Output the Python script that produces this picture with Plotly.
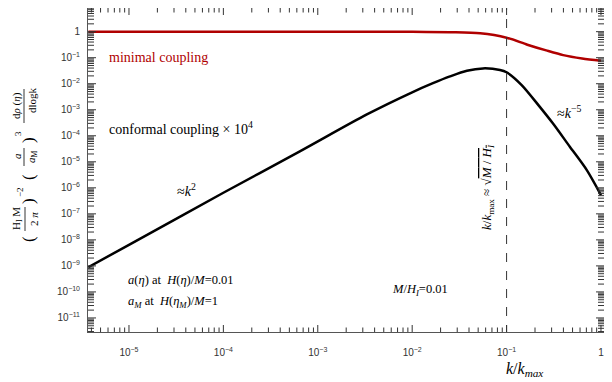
import math
import plotly.graph_objects as go

# ---- data (k/k_max, spectrum) ----
k_minimal = [10**-5.43, 1e-3, 1e-2, 10**-1.6, 10**-1.28, 1e-1, 10**-0.78, 10**-0.58, 10**-0.4, 10**-0.2, 1.0]
p_minimal = [1.0, 1.0, 10**-0.005, 10**-0.02, 10**-0.06, 10**-0.23, 10**-0.5, 10**-0.72, 10**-0.9, 10**-1.03, 10**-1.12]

k_conformal = [10**-5.43, 1e-5, 1e-4, 10**-3.19, 10**-2.48, 1e-2, 10**-1.78, 10**-1.6, 10**-1.42,
               10**-1.25, 10**-1.07, 1e-1, 10**-0.84, 10**-0.65, 10**-0.51, 10**-0.33, 10**-0.15, 1.0]
p_conformal = [10**-9.05, 10**-8.19, 10**-6.19, 10**-4.60, 10**-3.18, 10**-2.33, 10**-1.98, 10**-1.72, 10**-1.50,
               10**-1.41, 10**-1.47, 10**-1.56, 10**-2.05, 10**-2.88, 10**-3.52, 10**-4.42, 10**-5.32, 10**-6.28]

k_peak_marker = 0.1

x_tickvals = [1e-5, 1e-4, 1e-3, 1e-2, 1e-1, 1]
x_ticktext = ["10<sup>−5</sup>", "10<sup>−4</sup>", "10<sup>−3</sup>", "10<sup>−2</sup>", "10<sup>−1</sup>", "1"]
y_tickvals = [1, 1e-1, 1e-2, 1e-3, 1e-4, 1e-5, 1e-6, 1e-7, 1e-8, 1e-9, 1e-10, 1e-11]
y_ticktext = ["1"] + ["10<sup>−%d</sup>" % i for i in range(1, 12)]

X_RANGE = [-5.434, 0.032]
Y_RANGE = [-11.54, 0.91]

x_minor = [m * 10**e for e in range(-6, 1) for m in range(2, 10) if X_RANGE[0] < e + math.log10(m) < X_RANGE[1]]
y_minor = [m * 10**e for e in range(-12, 1) for m in range(2, 10) if Y_RANGE[0] < e + math.log10(m) < Y_RANGE[1]]

# ---- layout geometry (pixels of the 612x382 page; the page body adds an 8px offset) ----
OFF = 8
W_FIG, H_FIG = 612 - OFF, 382 - OFF
L, R, T, B = 88, 604, 8, 332          # plot area in page pixels
PW, PH = R - L, B - T

def px(x):
    return (x - L) / PW

def py(y):
    return (B - y) / PH

SERIF = "Liberation Serif, Times New Roman, serif"
SANS = "Liberation Sans, Arial, sans-serif"
RED = "#b00000"
AX = "#333333"

fig = go.Figure()
fig.add_trace(go.Scatter(x=k_minimal, y=p_minimal, mode="lines",
                         line=dict(color=RED, width=2.5, shape="spline", smoothing=0.8),
                         showlegend=False, hoverinfo="skip"))
fig.add_trace(go.Scatter(x=k_conformal, y=p_conformal, mode="lines",
                         line=dict(color="black", width=2.5, shape="spline", smoothing=0.8),
                         showlegend=False, hoverinfo="skip"))
fig.add_trace(go.Scatter(x=[k_peak_marker, k_peak_marker], y=[1e-13, 1e3], mode="lines",
                         line=dict(color="#333333", width=1, dash="dash"),
                         showlegend=False, hoverinfo="skip"))

axis_common = dict(type="log", showgrid=False, zeroline=False, showline=True, linecolor="#555555",
                   linewidth=1, mirror=True, ticks="", automargin=False,
                   tickfont=dict(family=SANS, size=10, color="#333333"))

fig.update_xaxes(**axis_common, range=X_RANGE, tickmode="array", tickvals=x_tickvals,
                 ticktext=x_ticktext, ticklabelstandoff=11)
fig.update_yaxes(**axis_common, range=Y_RANGE, tickmode="array", tickvals=y_tickvals,
                 ticktext=y_ticktext, ticklabelstandoff=5)

# tick marks on all four sides (major + minor), placed on the axes' own scales
shapes = []
X_MIN = 10**X_RANGE[0]
Y_MIN = 10**Y_RANGE[0]

def x_ticks(vals, length):
    for v in vals:
        # bottom: pixel-sized segment centred on the lower frame edge (outer half clipped)
        shapes.append(dict(type="line", xref="x", yref="y", ysizemode="pixel", yanchor=Y_MIN,
                           x0=v, x1=v, y0=-length, y1=length, line=dict(color=AX, width=1)))
        # top: paper-referenced segment hanging from the upper frame edge
        shapes.append(dict(type="line", xref="x", yref="paper", x0=v, x1=v,
                           y0=1, y1=1 - length / PH, line=dict(color=AX, width=1)))

def y_ticks(vals, length):
    for v in vals:
        # left
        shapes.append(dict(type="line", xref="x", yref="y", xsizemode="pixel", xanchor=X_MIN,
                           x0=-length, x1=length, y0=v, y1=v, line=dict(color=AX, width=1)))
        # right
        shapes.append(dict(type="line", xref="paper", yref="y", x0=1, x1=1 - length / PW,
                           y0=v, y1=v, line=dict(color=AX, width=1)))

x_ticks(x_tickvals, 7)
x_ticks(x_minor, 4.5)
y_ticks(y_tickvals, 8)
y_ticks(y_minor, 6)

ann = []

def add_text(text, x, y, size=13, color="black", xanchor="center", angle=0, family=SERIF):
    ann.append(dict(text=text, x=px(x), y=py(y), xref="paper", yref="paper", showarrow=False,
                    xanchor=xanchor, yanchor="middle", textangle=angle,
                    font=dict(family=family, size=size, color=color)))

add_text("minimal coupling", 107, 57, size=14, color=RED, xanchor="left")
add_text("conformal coupling × 10<sup>4</sup>", 107, 128, size=14, xanchor="left")
add_text("≈<i>k</i><sup>2</sup>", 186, 190, size=14)
add_text("≈<i>k</i><sup>−5</sup>", 569, 112, size=14)
add_text("<i>k</i>/<i>k</i><sub>max</sub> ≈ √<span style='text-decoration:overline'><i>M</i> / <i>H<sub>I</sub></i></span>",
         487, 187, size=13, angle=-90)
add_text("<i>a</i>(<i>η</i>) at  <i>H</i>(<i>η</i>)/<i>M</i>=0.01", 126, 280, size=12.5, xanchor="left")
add_text("<i>a<sub>M</sub></i> at  <i>H</i>(<i>η<sub>M</sub></i>)/<i>M</i>=1", 126, 302, size=12.5, xanchor="left")
add_text("<i>M</i>/<i>H<sub>I</sub></i>=0.01", 390, 290, size=12.5, xanchor="left")
add_text("<i>k</i>/<i>k<sub>max</sub></i>", 524, 369, size=16)

# y-axis title built from stacked fractions (rotated)
add_text("d<i>ρ</i> (<i>η</i>)", 16, 106, size=11, angle=-90)
add_text("dlogk", 32, 100, size=11, angle=-90)
add_text("(", 28, 177, size=17, angle=-90)
add_text("<i>a</i>", 17, 156, size=11, angle=-90)
add_text("<i>a</i><sub>M</sub>", 32, 157, size=11, angle=-90)
add_text(")", 28, 140, size=17, angle=-90)
add_text("3", 18, 134, size=9, angle=-90)
add_text("(", 28, 239, size=17, angle=-90)
add_text("H<sub>I</sub> M", 17, 219, size=11, angle=-90)
add_text("2 <i>π</i>", 34, 219, size=11, angle=-90)
add_text(")", 28, 201, size=17, angle=-90)
add_text("−2", 20, 192, size=9, angle=-90)

for (xb, y0, y1) in [(24, 89, 123), (24, 148, 166), (25, 207, 231)]:
    shapes.append(dict(type="line", xref="paper", yref="paper", x0=px(xb), x1=px(xb),
                       y0=py(y0), y1=py(y1), line=dict(color="black", width=0.8)))

fig.update_layout(width=W_FIG, height=H_FIG,
                  margin=dict(l=L - OFF, r=612 - R, t=T - OFF, b=382 - B, autoexpand=False),
                  paper_bgcolor="white", plot_bgcolor="white", annotations=ann, shapes=shapes,
                  showlegend=False)

fig.write_html("out.html")
